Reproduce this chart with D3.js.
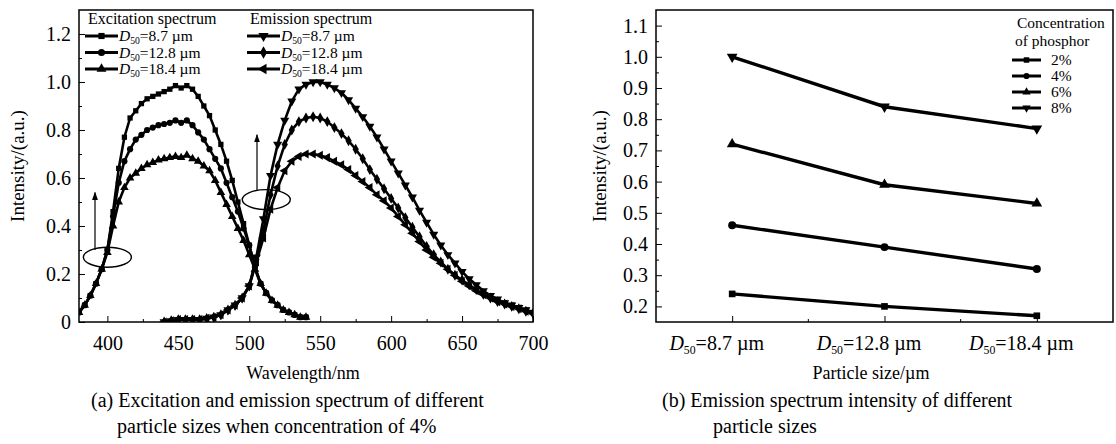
<!DOCTYPE html>
<html>
<head>
<meta charset="utf-8">
<script src="https://cdn.jsdelivr.net/npm/d3@7"></script>
<style>
  body { margin: 0; background: #fff; }
  svg { font-family: "Liberation Serif", "Times New Roman", serif; }
</style>
</head>
<body>
<svg id="chart" width="1116" height="444"></svg>
<script>
// ---- panel (a): excitation spectra, sampled every 4 nm
var excWavelength = [380,384,388,392,396,400,404,408,412,416,420,424,428,432,436,440,444,448,452,456,
  460,464,468,472,476,480,484,488,492,496,500,504,508,512,516,520,524,528,532,536,540];
var exc87 = [0.04,0.07,0.11,0.16,0.22,0.30,0.46,0.64,0.77,0.85,0.88,0.91,0.93,0.94,0.95,0.96,0.97,0.985,0.975,0.985,
  0.97,0.94,0.90,0.86,0.80,0.74,0.67,0.59,0.50,0.41,0.32,0.23,0.16,0.12,0.09,0.07,0.05,0.04,0.03,0.02,0.02];
var exc128 = [0.04,0.07,0.11,0.16,0.22,0.30,0.44,0.58,0.67,0.72,0.76,0.78,0.80,0.81,0.82,0.825,0.83,0.84,0.83,0.84,
  0.82,0.79,0.76,0.72,0.68,0.64,0.58,0.52,0.46,0.39,0.32,0.23,0.16,0.12,0.09,0.07,0.05,0.04,0.03,0.02,0.02];
var exc184 = [0.04,0.07,0.11,0.16,0.22,0.29,0.40,0.50,0.56,0.60,0.62,0.64,0.655,0.665,0.675,0.68,0.685,0.69,0.685,0.695,
  0.68,0.67,0.65,0.63,0.59,0.54,0.49,0.44,0.39,0.34,0.28,0.22,0.16,0.12,0.09,0.07,0.05,0.04,0.03,0.02,0.02];

// ---- panel (a): emission spectra, sampled every 5 nm
var emWavelength = [440,445,450,455,460,465,470,475,480,485,490,495,500,505,510,515,520,525,530,535,
  540,545,550,555,560,565,570,575,580,585,590,595,600,605,610,615,620,625,630,635,
  640,645,650,655,660,665,670,675,680,685,690,695,700];
var em87 = [0,0.005,0.01,0.01,0.01,0.01,0.015,0.02,0.03,0.05,0.07,0.10,
  0.15,0.27,0.43,0.61,0.74,0.84,0.92,0.97,0.99,1.0,1.0,0.99,
  0.975,0.955,0.925,0.89,0.855,0.815,0.77,0.72,0.67,0.62,0.57,0.52,
  0.465,0.415,0.365,0.32,0.28,0.245,0.21,0.18,0.155,0.13,0.11,0.095,
  0.08,0.07,0.06,0.05,0.04];
var em128 = [0,0.005,0.01,0.01,0.01,0.01,0.015,0.02,0.03,0.05,0.07,0.10,
  0.15,0.26,0.38,0.53,0.65,0.74,0.80,0.835,0.85,0.855,0.85,0.835,
  0.81,0.785,0.755,0.72,0.68,0.635,0.595,0.555,0.515,0.475,0.435,0.395,
  0.355,0.315,0.28,0.25,0.22,0.195,0.175,0.155,0.135,0.115,0.10,0.085,
  0.075,0.065,0.055,0.045,0.035];
var em184 = [0,0.005,0.01,0.01,0.01,0.01,0.015,0.02,0.03,0.05,0.07,0.10,
  0.15,0.25,0.35,0.47,0.56,0.63,0.67,0.69,0.70,0.70,0.695,0.685,
  0.67,0.655,0.635,0.61,0.585,0.56,0.53,0.505,0.475,0.44,0.405,0.37,
  0.335,0.30,0.27,0.245,0.22,0.195,0.17,0.15,0.13,0.115,0.10,0.085,
  0.075,0.065,0.055,0.045,0.035];

var sizeLabels = ["8.7 \u00b5m", "12.8 \u00b5m", "18.4 \u00b5m"];
var wlTicks = [400,450,500,550,600,650,700];
var intensityTicksA = [0,0.2,0.4,0.6,0.8,1.0,1.2];

// ---- panel (b): intensity vs particle size
var particleSizes = ["8.7", "12.8", "18.4"];
var conc2 = [0.24, 0.20, 0.17];
var conc4 = [0.46, 0.39, 0.32];
var conc6 = [0.72, 0.59, 0.53];
var conc8 = [1.00, 0.84, 0.77];
var concLabels = ["2%", "4%", "6%", "8%"];
var intensityTicksB = [0.2,0.3,0.4,0.5,0.6,0.7,0.8,0.9,1.0,1.1];

var svg = d3.select("#chart");

function marker(type, size) {
  return d3.symbol().type(type).size(size)();
}

// writes "D50=..." with italic D and subscript 50
function d50Text(sel, rest, fs) {
  sel.text(null);
  sel.append("tspan").attr("font-style", "italic").text("D");
  sel.append("tspan").attr("font-size", fs * 0.62).attr("dy", fs * 0.22).text("50");
  sel.append("tspan").attr("dy", -fs * 0.22).text("=" + rest);
}

// ========== panel (a) ==========
var a = { left: 79, right: 533, top: 10, bottom: 322 };
var xA = d3.scaleLinear().domain([380, 700]).range([a.left, a.right]);
var yA = d3.scaleLinear().domain([0, 1.3]).range([a.bottom, a.top]);
var gA = svg.append("g");

gA.append("g")
  .attr("transform", "translate(0," + a.bottom + ")")
  .call(d3.axisBottom(xA).tickValues([425,475,525,575,625,675]).tickSize(-3).tickFormat(""))
  .call(function(g) { g.select(".domain").remove(); });
gA.append("g")
  .attr("class", "ax")
  .attr("transform", "translate(0," + a.bottom + ")")
  .call(d3.axisBottom(xA).tickValues(wlTicks).tickSize(-6).tickPadding(14))
  .call(function(g) { g.select(".domain").remove(); });
gA.append("g")
  .attr("transform", "translate(" + a.left + ",0)")
  .call(d3.axisLeft(yA).tickValues([0.1,0.3,0.5,0.7,0.9,1.1]).tickSize(-3).tickFormat(""))
  .call(function(g) { g.select(".domain").remove(); });
gA.append("g")
  .attr("class", "ax")
  .attr("transform", "translate(" + a.left + ",0)")
  .call(d3.axisLeft(yA).tickValues(intensityTicksA).tickSize(-6).tickPadding(8)
    .tickFormat(function(d) { return d === 0 ? "0" : d3.format(".1f")(d); }))
  .call(function(g) { g.select(".domain").remove(); });

svg.append("clipPath").attr("id", "clipA").append("rect")
  .attr("x", a.left).attr("y", a.top).attr("width", a.right - a.left).attr("height", a.bottom - a.top);

var seriesA = [
  { x: excWavelength, y: exc87, sym: d3.symbolSquare, size: 28, rot: 0 },
  { x: excWavelength, y: exc128, sym: d3.symbolCircle, size: 30, rot: 0 },
  { x: excWavelength, y: exc184, sym: d3.symbolTriangle, size: 32, rot: 0 },
  { x: emWavelength, y: em87, sym: d3.symbolTriangle, size: 36, rot: 180 },
  { x: emWavelength, y: em128, sym: d3.symbolDiamond, size: 34, rot: 0 },
  { x: emWavelength, y: em184, sym: d3.symbolTriangle, size: 36, rot: -90 }
];

var lineA = d3.line().x(function(d) { return xA(d[0]); }).y(function(d) { return yA(d[1]); });
var plotA = gA.append("g").attr("clip-path", "url(#clipA)");
seriesA.forEach(function(s) {
  var pts = s.x.map(function(w, i) { return [w, s.y[i]]; });
  plotA.append("path").datum(pts).attr("d", lineA)
    .attr("fill", "none").attr("stroke", "#000").attr("stroke-width", 2.6);
  plotA.selectAll(null).data(pts).enter().append("path")
    .attr("d", marker(s.sym, s.size))
    .attr("transform", function(d) { return "translate(" + xA(d[0]) + "," + yA(d[1]) + ") rotate(" + s.rot + ")"; })
    .attr("fill", "#000");
});

gA.append("rect").attr("x", a.left).attr("y", a.top)
  .attr("width", a.right - a.left).attr("height", a.bottom - a.top)
  .attr("fill", "none").attr("stroke", "#000").attr("stroke-width", 1.5);

// ellipses and arrows
svg.append("defs").append("marker").attr("id", "arr")
  .attr("viewBox", "0 0 10 10").attr("refX", 9).attr("refY", 5)
  .attr("markerWidth", 7).attr("markerHeight", 7).attr("orient", "auto")
  .append("path").attr("d", "M0,1.5 L10,5 L0,8.5 Z").attr("fill", "#000");

[[400, 0.27, 95, 0.30, 0.54], [512, 0.51, 257, 0.55, 0.78]].forEach(function(e) {
  gA.append("ellipse").attr("cx", xA(e[0])).attr("cy", yA(e[1])).attr("rx", 24).attr("ry", 10)
    .attr("fill", "none").attr("stroke", "#000").attr("stroke-width", 1.4);
  gA.append("line").attr("x1", e[2]).attr("x2", e[2]).attr("y1", yA(e[3])).attr("y2", yA(e[4]))
    .attr("stroke", "#000").attr("stroke-width", 1.2).attr("marker-end", "url(#arr)");
});

// legend (a)
function legendBlock(g, x0, title, items) {
  g.append("text").attr("x", x0 + 3).attr("y", 24).attr("font-size", 16).text(title);
  items.forEach(function(it, i) {
    var yy = 36 + i * 16.5;
    g.append("line").attr("x1", x0).attr("x2", x0 + 33).attr("y1", yy).attr("y2", yy)
      .attr("stroke", "#000").attr("stroke-width", 2.8);
    g.append("path").attr("d", marker(it.sym, it.size + 10))
      .attr("transform", "translate(" + (x0 + 16.5) + "," + yy + ") rotate(" + it.rot + ")");
    g.append("text").attr("x", x0 + 34).attr("y", yy + 5).attr("font-size", 15.5)
      .call(d50Text, sizeLabels[i], 15.5);
  });
}
legendBlock(gA, 85, "Excitation spectrum", seriesA.slice(0, 3));
legendBlock(gA, 247, "Emission spectrum", seriesA.slice(3));

gA.append("text").attr("x", 303).attr("y", 379).attr("text-anchor", "middle")
  .attr("font-size", 18).text("Wavelength/nm");
gA.append("text").attr("transform", "translate(24,166) rotate(-90)").attr("text-anchor", "middle")
  .attr("font-size", 19).text("Intensity/(a.u.)");
gA.append("text").attr("x", 91).attr("y", 407).attr("font-size", 20)
  .text("(a) Excitation and emission spectrum of different");
gA.append("text").attr("x", 117).attr("y", 433).attr("font-size", 20)
  .text("particle sizes when concentration of 4%");

// ========== panel (b) ==========
var b = { left: 656, right: 1113, top: 10, bottom: 322 };
var xB = d3.scalePoint().domain(particleSizes).range([b.left, b.right]).padding(0.5);
var yB = d3.scaleLinear().domain([0.15, 1.15]).range([b.bottom, b.top]);
var gB = svg.append("g");

gB.append("g")
  .attr("transform", "translate(" + b.left + ",0)")
  .call(d3.axisLeft(yB).tickValues([0.25,0.35,0.45,0.55,0.65,0.75,0.85,0.95,1.05]).tickSize(-3).tickFormat(""))
  .call(function(g) { g.select(".domain").remove(); });
gB.append("g")
  .attr("class", "ax")
  .attr("transform", "translate(" + b.left + ",0)")
  .call(d3.axisLeft(yB).tickValues(intensityTicksB).tickSize(-6).tickPadding(8).tickFormat(d3.format(".1f")))
  .call(function(g) { g.select(".domain").remove(); });
gB.append("g")
  .attr("class", "ax")
  .attr("transform", "translate(0," + b.bottom + ")")
  .call(d3.axisBottom(xB).tickSize(-6).tickPadding(14))
  .call(function(g) { g.select(".domain").remove(); })
  .call(function(g) {
    g.selectAll(".tick text").attr("dx", -16).each(function(d, i) {
      d3.select(this).call(d50Text, sizeLabels[i], 19);
    });
  });
// minor ticks halfway between categories
var midB = particleSizes.slice(1).map(function(c, i) { return (xB(particleSizes[i]) + xB(c)) / 2; });
gB.selectAll(null).data(midB).enter().append("line")
  .attr("x1", function(d) { return d; }).attr("x2", function(d) { return d; })
  .attr("y1", b.bottom).attr("y2", b.bottom - 3).attr("stroke", "#000");

var seriesB = [
  { y: conc2, sym: d3.symbolSquare, size: 44, rot: 0 },
  { y: conc4, sym: d3.symbolCircle, size: 50, rot: 0 },
  { y: conc6, sym: d3.symbolTriangle, size: 50, rot: 0 },
  { y: conc8, sym: d3.symbolTriangle, size: 50, rot: 180 }
];
var lineB = d3.line().x(function(d) { return xB(d[0]); }).y(function(d) { return yB(d[1]); });
seriesB.forEach(function(s) {
  var pts = particleSizes.map(function(c, i) { return [c, s.y[i]]; });
  gB.append("path").datum(pts).attr("d", lineB)
    .attr("fill", "none").attr("stroke", "#000").attr("stroke-width", 3.4);
  gB.selectAll(null).data(pts).enter().append("path")
    .attr("d", marker(s.sym, s.size))
    .attr("transform", function(d) { return "translate(" + xB(d[0]) + "," + yB(d[1]) + ") rotate(" + s.rot + ")"; });
});

gB.append("rect").attr("x", b.left).attr("y", b.top)
  .attr("width", b.right - b.left).attr("height", b.bottom - b.top)
  .attr("fill", "none").attr("stroke", "#000").attr("stroke-width", 1.5);

// legend (b)
gB.append("text").attr("x", 1017).attr("y", 28).attr("font-size", 15.5).text("Concentration");
gB.append("text").attr("x", 1015).attr("y", 46).attr("font-size", 15.5).text("of phosphor");
seriesB.forEach(function(s, i) {
  var yy = 60 + i * 16;
  gB.append("line").attr("x1", 1012).attr("x2", 1041).attr("y1", yy).attr("y2", yy)
    .attr("stroke", "#000").attr("stroke-width", 3);
  gB.append("path").attr("d", marker(s.sym, 30))
    .attr("transform", "translate(1026.5," + yy + ") rotate(" + s.rot + ")");
  gB.append("text").attr("x", 1051).attr("y", yy + 5).attr("font-size", 15.5).text(concLabels[i]);
});

gB.append("text").attr("x", 871).attr("y", 379).attr("text-anchor", "middle")
  .attr("font-size", 18).text("Particle size/\u00b5m");
gB.append("text").attr("transform", "translate(606,166) rotate(-90)").attr("text-anchor", "middle")
  .attr("font-size", 19).text("Intensity/(a.u.)");
gB.append("text").attr("x", 662).attr("y", 407).attr("font-size", 20)
  .text("(b) Emission spectrum intensity of different");
gB.append("text").attr("x", 713).attr("y", 433).attr("font-size", 20)
  .text("particle sizes");

svg.selectAll(".ax text").attr("font-size", 20).attr("fill", "#000")
  .attr("font-family", "\"Liberation Serif\", \"Times New Roman\", serif");
svg.selectAll(".tick line").attr("stroke", "#000");
</script>
</body>
</html>
